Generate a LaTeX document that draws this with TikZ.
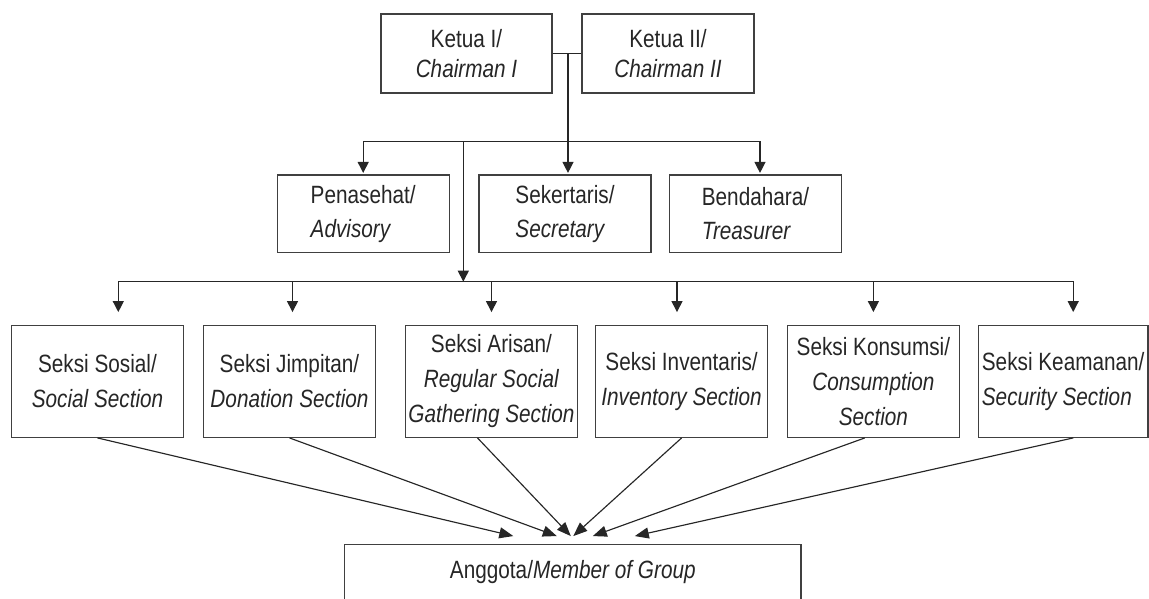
\documentclass[tikz,border=0pt]{standalone}
\usepackage{fontspec}
\setmainfont{Liberation Sans}[FakeStretch=0.83]
\usetikzlibrary{arrows.meta}

\begin{document}
\begin{tikzpicture}[x=1pt,y=-1pt,
  arr/.style={-{Triangle[length=11pt,width=11pt]},line width=1.25pt,draw=black!85},
  arrb/.style={-{Triangle[length=14pt,width=11pt]},line width=1.15pt,draw=black!85},
  box/.style={draw=black!75,line width=1.25pt,text=black!85,inner sep=0pt,minimum width=172pt},
  chairbox/.style={box,minimum height=79pt,align=center,font=\fontsize{25}{30}\selectfont},
  staffbox/.style={box,minimum height=77.7pt,align=left,font=\fontsize{25}{34}\selectfont},
  sectbox/.style={box,minimum height=111.6pt,align=center,font=\fontsize{25}{35}\selectfont}]
\useasboundingbox (0,0) rectangle (1149,599);
\clip (0,0) rectangle (1149,599);

% chairmen
\node[chairbox,minimum width=171pt] (ketua1) at (466.5,53.5) {Ketua I/\\\textit{Chairman I}};
\node[chairbox] (ketua2) at (668,53.5) {Ketua II/\\\textit{Chairman II}};

% staff
\node[staffbox] (penasehat) at (363.2,213.9) {Penasehat/\\\textit{Advisory}};
\node[staffbox] (sekertaris) at (565,213.9) {Sekertaris/\\\textit{Secretary}};
\node[staffbox] (bendahara) at (755.5,213.9) {Bendahara/\\\textit{Treasurer}};

% sections
\node[sectbox,minimum width=171.6pt] (sosial) at (97.5,381.5) {Seksi Sosial/\\\textit{Social Section}};
\node[sectbox,minimum width=172.5pt] (jimpitan) at (289.5,381.5) {Seksi Jimpitan/\\\textit{Donation Section}};
\node[sectbox] (arisan) at (491.5,381.5) {Seksi Arisan/\\\textit{Regular Social}\\\textit{Gathering Section}};
\node[sectbox] (inventaris) at (681.6,381.5) {Seksi Inventaris/\\\textit{Inventory Section}};
\node[sectbox] (konsumsi) at (873.4,381.5) {Seksi Konsumsi/\\\textit{Consumption}\\\textit{Section}};
\node[sectbox,minimum width=169.7pt,align=left] (keamanan) at (1063.2,381.5) {Seksi Keamanan/\\\textit{Security Section}};

% members
\node[box,anchor=base,minimum width=456.4pt,text height=18pt,text depth=60pt,inner ysep=15.7pt,
  font=\fontsize{25}{30}\selectfont] (anggota) at (572.8,578) {Anggota/\textit{Member of Group}};

% junctions
\coordinate (jtop) at (568,53.5);
\coordinate (bus2) at (568,141.7);
\coordinate (drop) at (463.3,141.7);
\coordinate (bus3) at (463.3,281.7);

\draw[line width=1.25pt,draw=black!85] (ketua1.east) -- (ketua2.west);
\draw[arr,shorten >=1.5pt] (jtop) -- (jtop |- sekertaris.north);
\draw[arr,shorten >=1.5pt] (bus2) -| (penasehat.north);
\draw[arr,shorten >=1.5pt] (bus2) -| ([xshift=4.5pt]bendahara.north);
\draw[arr] (drop) -- (bus3);

\foreach \n/\dx in {sosial/20.8,jimpitan/3,arisan/0,inventaris/-4.6,konsumsi/0,keamanan/10}
  \draw[arr,shorten >=13pt] (bus3) -| ([xshift=\dx pt]\n.north);

\foreach \n/\sx/\tx in {sosial/0/-59.5,jimpitan/0/-16,arisan/-14/-2,inventaris/0/0.5,konsumsi/-8.6/20,keamanan/10/62}
  \draw[arrb] ([xshift=\sx pt]\n.south) -- ([shift={(\tx,-7.6)}]anggota.north);
\end{tikzpicture}
\end{document}
